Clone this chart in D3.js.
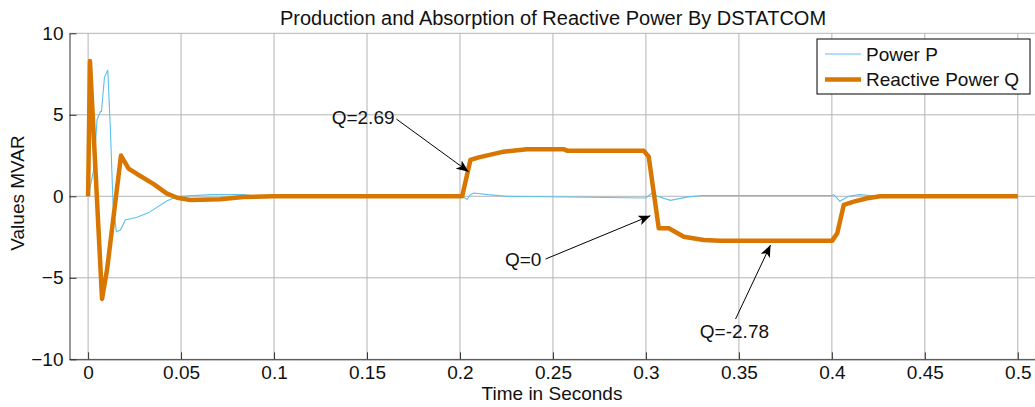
<!DOCTYPE html>
<html>
<head>
<meta charset="utf-8">
<script src="https://cdn.jsdelivr.net/npm/d3@7"></script>
<style>
  body { margin: 0; background: #fff; }
  svg { display: block; font-family: "Liberation Sans", Arial, sans-serif; }
</style>
</head>
<body>
<div id="chart"></div>
<script>
// Reactive power Q (orange)
const tQ = [0, 0.001, 0.0075, 0.0102, 0.0177, 0.0218, 0.0263, 0.0353, 0.0422, 0.0479, 0.055, 0.071, 0.0835, 0.1,
  0.2012, 0.2056, 0.2101, 0.2235, 0.236, 0.256, 0.2576, 0.2988, 0.3015, 0.3069, 0.3123, 0.3204, 0.3311, 0.34,
  0.4002, 0.4029, 0.4064, 0.4118, 0.419, 0.426, 0.5];
const valQ = [0, 8.3, -6.3, -4.5, 2.5, 1.7, 1.37, 0.75, 0.18, -0.09, -0.23, -0.18, -0.05, 0,
  0, 2.23, 2.39, 2.74, 2.88, 2.88, 2.8, 2.8, 2.43, -1.96, -1.96, -2.48, -2.68, -2.72,
  -2.72, -2.27, -0.53, -0.33, -0.12, 0, 0];

// Power P (blue)
const tP = [0, 0.003, 0.0048, 0.0066, 0.0072, 0.0088, 0.0106, 0.012, 0.0134, 0.0152, 0.0174, 0.02, 0.0263, 0.0326,
  0.0425, 0.0462, 0.05, 0.066, 0.0837, 0.09, 0.2012, 0.2038, 0.2056, 0.2074, 0.215, 0.225, 0.3, 0.3033, 0.306,
  0.3132, 0.322, 0.33, 0.4, 0.401, 0.4043, 0.409, 0.415, 0.425, 0.5];
const valP = [0, 1.6, 4.7, 5.2, 5.2, 7.3, 7.75, 4.07, -0.43, -2.17, -2.07, -1.45, -1.29, -1.0,
  -0.27, -0.1, 0, 0.1, 0.1, 0, 0, -0.2, 0.1, 0.2, 0.1, 0, -0.1, 0.2, 0,
  -0.25, -0.05, 0.05, 0.05, 0.1, -0.3, 0, 0.1, 0, 0];

const xTicks = [0, 0.05, 0.1, 0.15, 0.2, 0.25, 0.3, 0.35, 0.4, 0.45, 0.5];
const yTicks = [-10, -5, 0, 5, 10];

// annotations: label, text pos, arrow tail, arrow tip (data units)
const notes = [
  { label: "Q=2.69", tx: 0.1648, ty: 4.86, anchor: "end", x1: 0.1658, y1: 4.74, x2: 0.2046, y2: 1.51 },
  { label: "Q=0", tx: 0.2438, ty: -3.85, anchor: "end", x1: 0.246, y1: -3.85, x2: 0.3024, y2: -1.19 },
  { label: "Q=-2.78", tx: 0.3476, ty: -8.3, anchor: "middle", x1: 0.3482, y1: -7.53, x2: 0.367, y2: -2.99 }
];

const width = 1035, height = 407;
const colP = "#5cc1ec", colQ = "#d87600";

const svg = d3.select("#chart").append("svg")
  .attr("width", width)
  .attr("height", height);

const x = d3.scaleLinear().domain([-0.01, 0.51]).range([69.5, 1036.4]);
const y = d3.scaleLinear().domain([-10, 10]).range([359.3, 33.3]);

// grid
svg.append("g")
  .selectAll("line")
  .data(xTicks)
  .join("line")
    .attr("x1", d => x(d)).attr("x2", d => x(d))
    .attr("y1", y(-10)).attr("y2", y(10))
    .attr("stroke", "#b4b4b4");
svg.append("g")
  .selectAll("line")
  .data(yTicks)
  .join("line")
    .attr("x1", x.range()[0]).attr("x2", x.range()[1])
    .attr("y1", d => y(d)).attr("y2", d => y(d))
    .attr("stroke", "#b4b4b4");

// axes (ticks point inward)
svg.append("g")
    .attr("transform", `translate(0,${y(-10)})`)
    .call(d3.axisBottom(x).tickValues(xTicks).tickFormat(d3.format("")).tickSizeInner(-7).tickSizeOuter(0).tickPadding(6))
    .call(g => g.selectAll("text").attr("font-size", 19).attr("fill", "#111").attr("font-family", null))
    .call(g => g.selectAll("line,path").attr("stroke", "#333"));

svg.append("g")
    .attr("transform", `translate(${x.range()[0]},0)`)
    .call(d3.axisLeft(y).tickValues(yTicks).tickSizeInner(-7).tickSizeOuter(0).tickPadding(6))
    .call(g => g.selectAll("text").attr("font-size", 19).attr("fill", "#111").attr("font-family", null))
    .call(g => g.selectAll("line,path").attr("stroke", "#333"));

// series
const line = d3.line().x(d => x(d[0])).y(d => y(d[1]));

svg.append("path")
  .datum(tP.map((t, i) => [t, valP[i]]))
  .attr("fill", "none")
  .attr("stroke", colP)
  .attr("stroke-width", 1.1)
  .attr("d", line);

svg.append("path")
  .datum(tQ.map((t, i) => [t, valQ[i]]))
  .attr("fill", "none")
  .attr("stroke", colQ)
  .attr("stroke-width", 4.5)
  .attr("stroke-linejoin", "round")
  .attr("d", line);

// annotations
svg.append("defs").append("marker")
    .attr("id", "arrow")
    .attr("viewBox", "0 0 12 10")
    .attr("refX", 12).attr("refY", 5)
    .attr("markerWidth", 12).attr("markerHeight", 10)
    .attr("markerUnits", "userSpaceOnUse")
    .attr("orient", "auto")
  .append("path")
    .attr("d", "M0,0 L12,5 L0,10 L3,5 Z")
    .attr("fill", "#000");

const ann = svg.append("g");
ann.selectAll("line")
  .data(notes)
  .join("line")
    .attr("x1", d => x(d.x1)).attr("y1", d => y(d.y1))
    .attr("x2", d => x(d.x2)).attr("y2", d => y(d.y2))
    .attr("stroke", "#000")
    .attr("stroke-width", 1)
    .attr("marker-end", "url(#arrow)");
ann.selectAll("text")
  .data(notes)
  .join("text")
    .attr("x", d => x(d.tx)).attr("y", d => y(d.ty))
    .attr("dy", "0.35em")
    .attr("text-anchor", d => d.anchor)
    .attr("font-size", 19)
    .attr("fill", "#111")
    .text(d => d.label);

// legend
const leg = svg.append("g").attr("transform", "translate(817,39)");
leg.append("rect")
  .attr("width", 213).attr("height", 55)
  .attr("fill", "#fff").attr("stroke", "#000");
const items = [["Power P", colP, 1.1], ["Reactive Power Q", colQ, 4.5]];
items.forEach((it, i) => {
  const yy = 15 + i * 25.5;
  leg.append("line")
    .attr("x1", 8).attr("x2", 44).attr("y1", yy).attr("y2", yy)
    .attr("stroke", it[1]).attr("stroke-width", it[2]);
  leg.append("text")
    .attr("x", 49).attr("y", yy).attr("dy", "0.35em")
    .attr("font-size", 19).attr("fill", "#111")
    .text(it[0]);
});

// titles
svg.append("text")
  .attr("x", 553).attr("y", 25)
  .attr("text-anchor", "middle")
  .attr("font-size", 20)
  .attr("fill", "#111")
  .text("Production and Absorption of Reactive Power By DSTATCOM");

svg.append("text")
  .attr("x", 552).attr("y", 400)
  .attr("text-anchor", "middle")
  .attr("font-size", 19)
  .attr("fill", "#111")
  .text("Time in Seconds");

svg.append("text")
  .attr("transform", "translate(24,193) rotate(-90)")
  .attr("text-anchor", "middle")
  .attr("font-size", 19)
  .attr("fill", "#111")
  .text("Values MVAR");
</script>
</body>
</html>
